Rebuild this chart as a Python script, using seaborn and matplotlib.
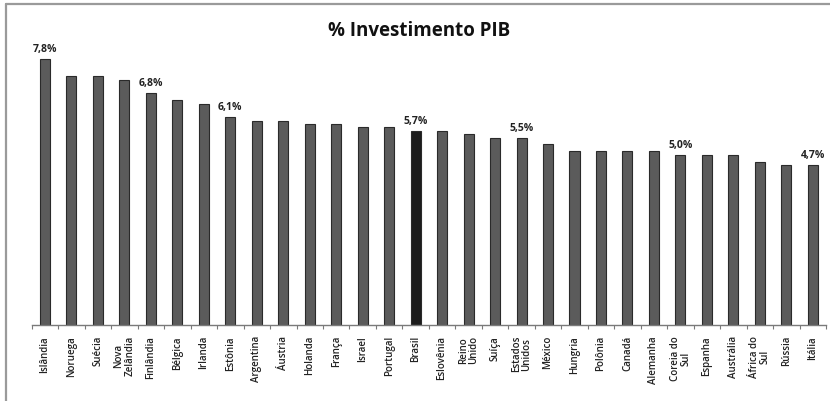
import numpy as np
import matplotlib
matplotlib.use("Agg")
import matplotlib.pyplot as plt
import seaborn as sns
from matplotlib.lines import Line2D

# data
paises = ["Islândia", "Noruega", "Suécia", "Nova\nZelândia", "Finlândia", "Bélgica",
          "Irlanda", "Estônia", "Argentina", "Áustria", "Holanda", "França", "Israel",
          "Portugal", "Brasil", "Eslovênia", "Reino\nUnido", "Suíça", "Estados\nUnidos",
          "México", "Hungria", "Polônia", "Canadá", "Alemanha", "Coreia do\nSul",
          "Espanha", "Austrália", "África do\nSul", "Rússia", "Itália"]
investimento = [7.8, 7.3, 7.3, 7.2, 6.8, 6.6, 6.5, 6.1, 6.0, 6.0, 5.9, 5.9, 5.8,
                5.8, 5.7, 5.7, 5.6, 5.5, 5.5, 5.3, 5.1, 5.1, 5.1, 5.1, 5.0,
                5.0, 5.0, 4.8, 4.7, 4.7]
rotulados = ["Islândia", "Finlândia", "Estônia", "Brasil", "Estados\nUnidos",
             "Coreia do\nSul", "Itália"]
destaque = "Brasil"

sns.set_theme(style="white")
plt.rcParams["font.family"] = ["Open Sans", "DejaVu Sans"]

fig = plt.figure(figsize=(8.3, 4.01), dpi=100)
ax = fig.add_axes([31.75 / 830, 76 / 401, (826 - 31.75) / 830, 289.5 / 401])

cores = {p: ("#1c1c1c" if p == destaque else "#5b5b5b") for p in paises}
sns.barplot(x=paises, y=investimento, hue=paises, palette=cores, legend=False,
            width=0.38, edgecolor="#2a2a2a", linewidth=0.8, saturation=1, ax=ax)

ax.set_ylim(0, 8.5)
ax.set_xlim(-0.5, len(paises) - 0.5)
ax.set_yticks([])
for s in ["top", "right", "left"]:
    ax.spines[s].set_visible(False)
ax.spines["bottom"].set_color("#7a7a7a")
ax.spines["bottom"].set_linewidth(1.0)

ax.set_xticks(range(len(paises)))
ax.set_xticklabels(paises, rotation=90, fontsize=7, color="#222222", fontweight="semibold",
                   linespacing=0.95, va="top", ha="center")
ax.set_xticks(np.arange(-0.5, len(paises), 1), minor=True)
ax.tick_params(axis="x", which="major", length=0, pad=8)
ax.tick_params(axis="x", which="minor", length=3, width=0.8, color="#7a7a7a",
               direction="out", bottom=True)

# value labels on selected bars
for i, p in enumerate(paises):
    if p in rotulados:
        ax.text(i, investimento[i] + 0.12, f"{investimento[i]:.1f}%".replace(".", ","),
                ha="center", va="bottom", fontsize=7.5, fontweight="bold", color="#222222")

fig.text(419 / 830, 1 - 31 / 401, "% Investimento PIB", ha="center", va="center",
         fontsize=13.5, fontweight="bold", color="#111111")

# outer frame (left and top edges)
fig.add_artist(Line2D([5.5 / 830, 5.5 / 830], [0, 1 - 4 / 401], color="#9a9a9a", lw=1.6))
fig.add_artist(Line2D([5.5 / 830, 1], [1 - 4 / 401, 1 - 4 / 401], color="#9a9a9a", lw=1.6))

fig.savefig("out.png", dpi=100)
